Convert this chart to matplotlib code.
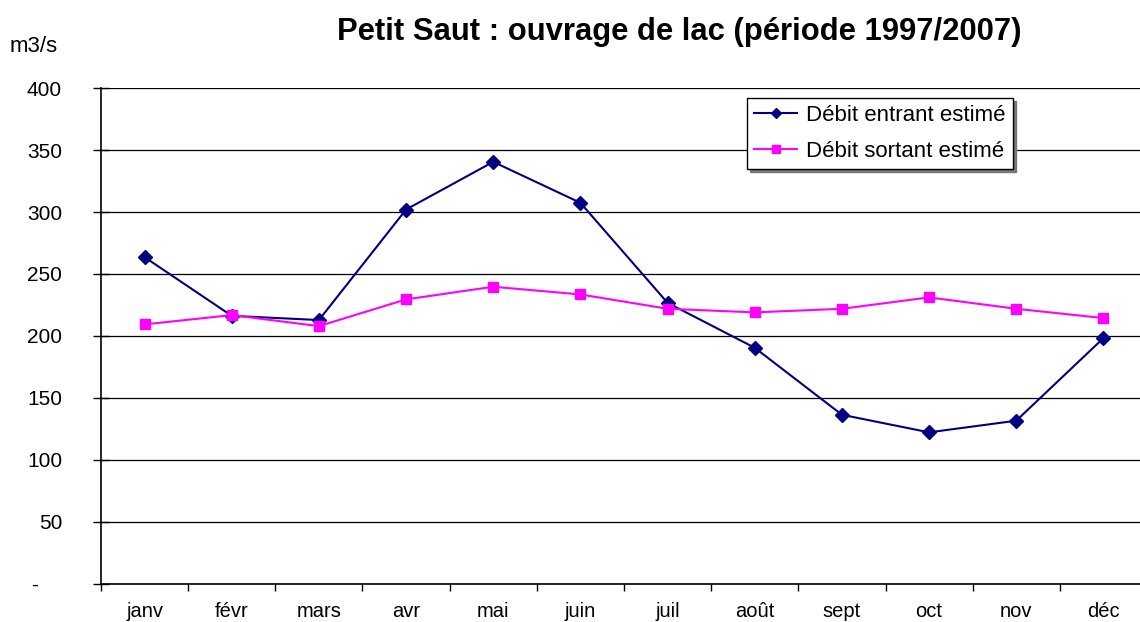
import numpy as np
import matplotlib.pyplot as plt

plt.rcParams['font.family'] = ['Liberation Sans', 'DejaVu Sans']

mois = ['janv', 'févr', 'mars', 'avr', 'mai', 'juin',
        'juil', 'août', 'sept', 'oct', 'nov', 'déc']
debit_entrant = [263.6, 216.2, 212.8, 302.1, 340.6, 307.5,
                 226.7, 190.4, 136.3, 122.1, 131.5, 198.2]
debit_sortant = [209.3, 216.8, 207.9, 229.5, 239.7, 233.5,
                 221.9, 219.0, 221.9, 231.1, 221.9, 214.4]
y_ticks = [0, 50, 100, 150, 200, 250, 300, 350, 400]
y_labels = ['-    ', '50', '100', '150', '200', '250', '300', '350', '400']


fig = plt.figure(figsize=(11.4, 6.22), dpi=100)
ax = fig.add_axes([101 / 1140, 1 - 583.5 / 622, 1046 / 1140, 495.2 / 622])

x = np.arange(len(mois))
ax.plot(x, debit_entrant, color='#000080', lw=1.5, marker='D', ms=7,
        label='Débit entrant estimé', zorder=3)
ax.plot(x, debit_sortant, color='#FF00FF', lw=1.5, marker='s', ms=7,
        label='Débit sortant estimé', zorder=3)

ax.set_xlim(-0.5, 11.5)
ax.set_ylim(0, 400)

# horizontal grid at every 50 m3/s
ax.set_yticks(y_ticks)
ax.set_yticklabels(y_labels, fontsize=15)
ax.yaxis.grid(True, color='black', lw=0.9)
ax.set_axisbelow(True)
ax.tick_params(axis='y', direction='inout', length=12, width=1, pad=22)

# category ticks between months, labels centred on each month
ax.set_xticks(x)
ax.set_xticklabels(mois, fontsize=14.5)
ax.set_xticks(np.arange(-0.5, 12, 1), minor=True)
ax.tick_params(axis='x', which='major', length=0, pad=13)
ax.tick_params(axis='x', which='minor', direction='out', length=5, width=1)

for side in ['top', 'right']:
    ax.spines[side].set_visible(False)
for side in ['left', 'bottom']:
    ax.spines[side].set_linewidth(1.2)
    ax.spines[side].set_color('black')

leg = ax.legend(loc='upper left', bbox_to_anchor=(747 / 1140, 1 - 98 / 622),
                bbox_transform=fig.transFigure, fontsize=16, frameon=True,
                fancybox=False, shadow={'color': '#777777', 'alpha': 1},
                borderaxespad=0, handlelength=1.95, borderpad=0.32,
                labelspacing=0.68, handletextpad=0.4, markerscale=0.75)
leg.get_frame().set_edgecolor('black')
leg.get_frame().set_linewidth(1)

fig.text(679 / 1140, 1 - 32 / 622, 'Petit Saut : ouvrage de lac (période 1997/2007)',
         ha='center', va='center', fontsize=22.3, fontweight='bold')
fig.text(10 / 1140, 1 - 47 / 622, 'm3/s', ha='left', va='center', fontsize=16)

fig.savefig('out.png', dpi=100, facecolor='white')
